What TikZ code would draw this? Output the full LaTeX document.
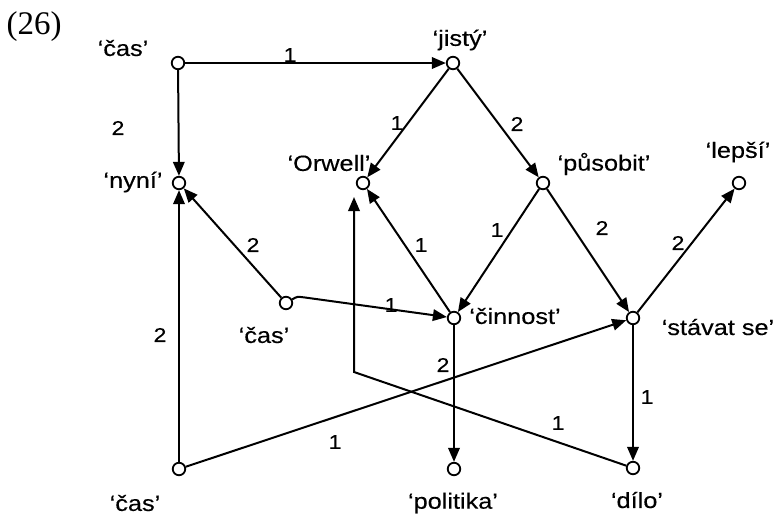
\documentclass[tikz,border=0pt]{standalone}
\usepackage{fontspec}
\setmainfont{Liberation Sans}
\newfontfamily\wordfont{Liberation Sans}[FakeStretch=1.15,FakeBold=0.3]
\newfontfamily\exfont{Liberation Serif}
\usetikzlibrary{arrows.meta}

\begin{document}
\begin{tikzpicture}[x=1pt,y=-1pt,
  vert/.style={circle,draw,fill=white,line width=1.8pt,minimum size=12.5pt,inner sep=0pt},
  word/.style={font=\wordfont\fontsize{22}{26}\selectfont,inner sep=0pt},
  lab/.style={font=\wordfont\fontsize{20}{24}\selectfont,inner sep=0pt},
  arc/.style={line width=2pt,-{Triangle[length=14pt,width=11.5pt]}}]
\fill[white] (0,0) rectangle (777,517);
\useasboundingbox (0,0) rectangle (777,517);

% example number
\node[font=\exfont\fontsize{33}{38}\selectfont,inner sep=0pt] (ex) at (34,27) {(26)};

% vertices
\node[vert] (casTop)  at (178,63)  {};
\node[vert] (jisty)   at (453,63)  {};
\node[vert] (nyni)    at (179,183) {};
\node[vert] (orwell)  at (363,183) {};
\node[vert] (pusobit) at (543,183) {};
\node[vert] (lepsi)   at (739,183) {};
\node[vert] (casMid)  at (286,303) {};
\node[vert] (cinnost) at (454,318) {};
\node[vert] (stavat)  at (633,318) {};
\node[vert] (casBot)  at (179,469) {};
\node[vert] (politika) at (454,469) {};
\node[vert] (dilo)    at (633,468) {};

% vertex labels
\node[word] (wCasTop)  at (123,48)  {‘čas’};
\node[word] (wJisty)   at (460,40)  {‘jistý’};
\node[word] (wNyni)    at (133,182) {‘nyní’};
\node[word] (wOrwell)  at (329,163) {‘Orwell’};
\node[word] (wPusobit) at (604,164) {‘působit’};
\node[word] (wLepsi)   at (738,152) {‘lepší’};
\node[word] (wCasMid)  at (264,335) {‘čas’};
\node[word] (wCinnost) at (515,316) {‘činnost’};
\node[word] (wStavat)  at (718,327) {‘stávat se’};
\node[word] (wCasBot)  at (135,503) {‘čas’};
\node[word] (wPolitika) at (453,503) {‘politika’};
\node[word] (wDilo)    at (637,500) {‘dílo’};

% bend points
\coordinate (kink) at (305,297.5);
\coordinate (bend) at (354,372);
\coordinate (orwellFoot) at (354,197);

% connectors
\draw[arc] (casTop) -- (jisty);
\draw[arc] (casTop) -- (nyni);
\draw[arc] (jisty) -- (orwell);
\draw[arc] (jisty) -- (pusobit);
\draw[arc] (pusobit) -- (cinnost);
\draw[arc] (pusobit) -- (stavat);
\draw[arc] (stavat) -- (lepsi);
\draw[arc] (casMid) -- (nyni);
\draw[arc] (casMid.30) .. controls (297,296.5) .. (kink) -- (cinnost);
\draw[arc] (cinnost) -- (orwell);
\draw[arc] (cinnost) -- (politika);
\draw[arc] (casBot) -- (nyni);
\draw[arc] (casBot) -- (stavat);
\draw[arc] (stavat) -- (dilo);
\draw[arc] (dilo) -- (bend) -- (orwellFoot);

% connector labels
\node[lab] (l1)  at (290,55)  {1};
\node[lab] (l2)  at (118,128) {2};
\node[lab] (l3)  at (397,123) {1};
\node[lab] (l4)  at (517,124) {2};
\node[lab] (l5)  at (602,228) {2};
\node[lab] (l6)  at (678,243) {2};
\node[lab] (l7)  at (253,245) {2};
\node[lab] (l8)  at (421,245) {1};
\node[lab] (l9)  at (497,230) {1};
\node[lab] (l10) at (391,305) {1};
\node[lab] (l11) at (443,365) {2};
\node[lab] (l12) at (160,335) {2};
\node[lab] (l13) at (335,442) {1};
\node[lab] (l14) at (558,423) {1};
\node[lab] (l15) at (647,397) {1};
\end{tikzpicture}
\end{document}
